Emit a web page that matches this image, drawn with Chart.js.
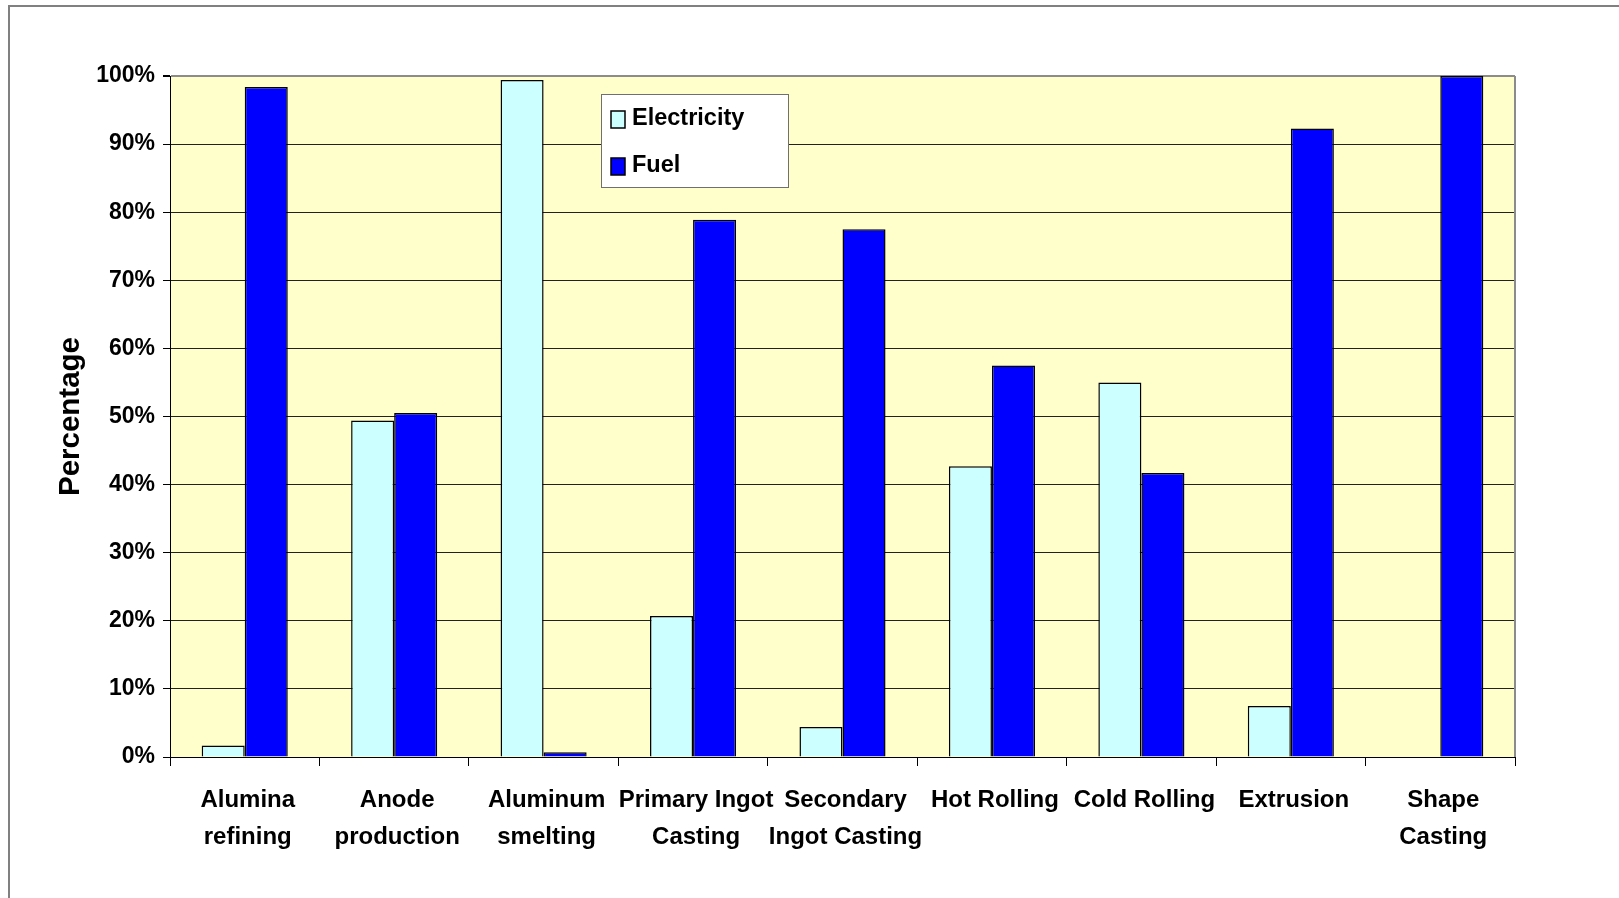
<!DOCTYPE html>
<html>
<head>
<meta charset="utf-8">
<script src="https://cdn.jsdelivr.net/npm/chart.js@4/dist/chart.umd.min.js"></script>
<style>
  html, body { margin: 0; padding: 0; background: #ffffff; }
  #wrap { width: 1619px; height: 898px; }
</style>
</head>
<body>
<div id="wrap"><canvas id="chart" width="1619" height="898"></canvas></div>
<script>
// Share of process energy by source, per aluminum production step
const categories = [
  ['Alumina', 'refining'],
  ['Anode', 'production'],
  ['Aluminum', 'smelting'],
  ['Primary Ingot', 'Casting'],
  ['Secondary', 'Ingot Casting'],
  'Hot Rolling',
  'Cold Rolling',
  'Extrusion',
  ['Shape', 'Casting']
];
const electricity = [1.7, 49.4, 99.4, 20.7, 4.4, 42.7, 55.0, 7.5, 0];
const fuel = [98.4, 50.5, 0.7, 78.9, 77.5, 57.5, 41.7, 92.3, 100];
const yTicks = [0, 10, 20, 30, 40, 50, 60, 70, 80, 90, 100];

const FONT = 'Liberation Sans, Arial, sans-serif';

// Frame, plot background and the boxed legend
const decorations = {
  id: 'decorations',
  beforeDraw(chart) {
    const { ctx, chartArea: a } = chart;
    ctx.save();
    ctx.fillStyle = '#ffffcc';
    ctx.fillRect(a.left, a.top, a.right - a.left, a.bottom - a.top);
    ctx.strokeStyle = '#808080';
    ctx.lineWidth = 2;
    ctx.strokeRect(9, 6, 1700, 1000);
    ctx.restore();
  },
  afterDatasetsDraw(chart) {
    const { ctx, chartArea: a } = chart;
    ctx.save();
    // grey outline on the right side of the plot
    ctx.strokeStyle = '#8c8c8c';
    ctx.lineWidth = 2;
    ctx.beginPath();
    ctx.moveTo(a.right, a.top);
    ctx.lineTo(a.right, a.bottom);
    ctx.stroke();

    // legend
    const bx = a.left + 431, by = a.top + 18, bw = 187, bh = 93;
    ctx.fillStyle = '#ffffff';
    ctx.fillRect(bx, by, bw, bh);
    ctx.strokeStyle = '#707070';
    ctx.lineWidth = 1;
    ctx.strokeRect(bx + 0.5, by + 0.5, bw, bh);
    ctx.font = 'bold 23.5px ' + FONT;
    ctx.textBaseline = 'middle';
    ctx.textAlign = 'left';
    chart.data.datasets.forEach((ds, i) => {
      const cy = by + 25 + i * 47;
      ctx.fillStyle = ds.backgroundColor;
      ctx.fillRect(bx + 10, cy - 8, 14, 17);
      ctx.strokeStyle = '#000000';
      ctx.lineWidth = 1.5;
      ctx.strokeRect(bx + 10, cy - 8, 14, 17);
      ctx.fillStyle = '#000000';
      ctx.fillText(ds.label, bx + 31, cy);
    });
    ctx.restore();
  }
};

new Chart(document.getElementById('chart'), {
  type: 'bar',
  data: {
    labels: categories,
    datasets: [
      {
        label: 'Electricity',
        data: electricity,
        backgroundColor: '#ccffff',
        borderColor: '#000000',
        borderWidth: 1.5,
        borderSkipped: 'start'
      },
      {
        label: 'Fuel',
        data: fuel,
        backgroundColor: '#0000ff',
        borderColor: '#000000',
        borderWidth: 1.5,
        borderSkipped: 'start'
      }
    ]
  },
  options: {
    responsive: false,
    animation: false,
    events: [],
    layout: { padding: { left: 0, top: 76, right: 104, bottom: 0 } },
    datasets: { bar: { categoryPercentage: 0.576, barPercentage: 1.0 } },
    plugins: {
      legend: { display: false },
      tooltip: { enabled: false }
    },
    scales: {
      x: {
        offset: true,
        grid: {
          offset: true,
          drawOnChartArea: false,
          drawTicks: true,
          tickLength: 9,
          tickColor: '#000000',
          color: '#000000'
        },
        border: { color: '#000000', width: 1 },
        ticks: {
          color: '#000000',
          font: { family: FONT, size: 24, weight: 'bold', lineHeight: 1.55 },
          padding: 16,
          labelOffset: 3,
          maxRotation: 0,
          autoSkip: false
        },
        afterFit(scale) { scale.height = 141; }
      },
      y: {
        min: 0,
        max: 100,
        afterBuildTicks(scale) { scale.ticks = yTicks.map(v => ({ value: v })); },
        grid: {
          color: ctx => (ctx.tick && ctx.tick.value === 100 ? '#8c8c8c' : '#222222'),
          lineWidth: ctx => (ctx.tick && ctx.tick.value === 100 ? 2 : 1),
          tickColor: '#000000',
          tickLength: 7
        },
        border: { color: '#000000', width: 1 },
        ticks: {
          color: '#000000',
          font: { family: FONT, size: 23, weight: 'bold' },
          padding: 8,
          callback: v => v + '%'
        },
        title: {
          display: true,
          text: 'Percentage',
          color: '#000000',
          font: { family: FONT, size: 29.5, weight: 'bold' },
          padding: { top: 53, bottom: 0 }
        },
        afterFit(scale) { scale.width = 170; }
      }
    }
  },
  plugins: [decorations]
});
</script>
</body>
</html>
